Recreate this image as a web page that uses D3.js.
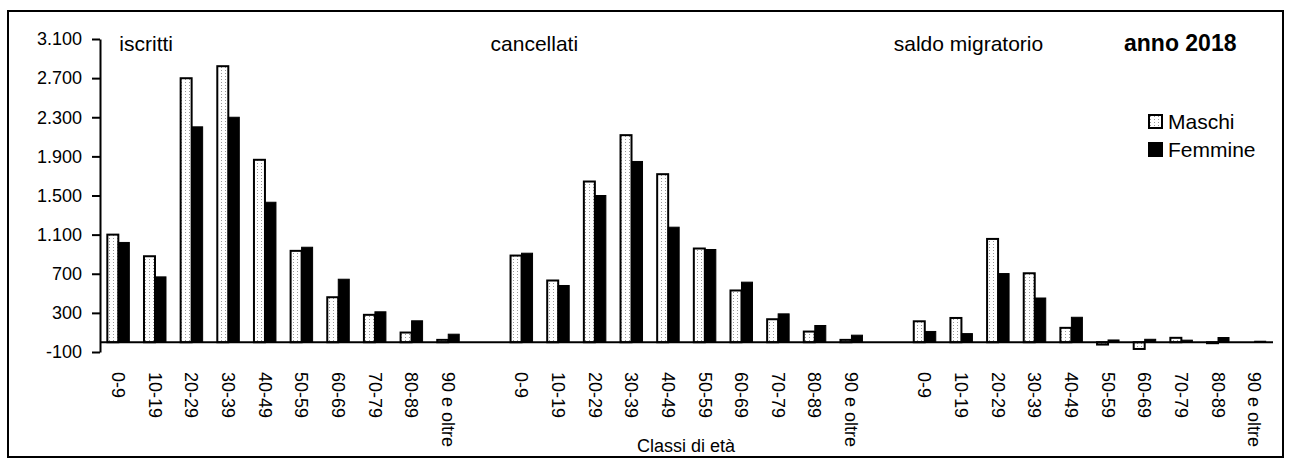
<!DOCTYPE html>
<meta charset="utf-8">
<html>
<style type='text/css'>
  body { margin:0; background:#fff; }
  text { font-family: "Liberation Sans", Arial, sans-serif; fill:#000; }
</style>
<script src="https://d3js.org/d3.v7.min.js"></script>
<body>
<svg id="chart" width="1289" height="467"></svg>

<script>

// Data
var classi = ["0-9", "10-19", "20-29", "30-39", "40-49", "50-59", "60-69", "70-79", "80-89", "90 e oltre"];
var gruppi = ["iscritti", "cancellati", "saldo migratorio"];

var iscrittiMaschi   = [1100, 879, 2699, 2822, 1865, 934, 460, 280, 99, 24];
var iscrittiFemmine  = [1020, 668, 2202, 2300, 1431, 971, 644, 311, 219, 82];
var cancellatiMaschi  = [886, 631, 1643, 2117, 1718, 958, 529, 235, 109, 24];
var cancellatiFemmine = [910, 580, 1500, 1848, 1176, 948, 614, 290, 171, 72];
var saldoMaschi   = [214, 248, 1056, 705, 147, -24, -69, 45, -10, 0];
var saldoFemmine  = [110, 88, 702, 452, 255, 23, 30, 21, 48, 10];

var yTicks = [-100, 300, 700, 1100, 1500, 1900, 2300, 2700, 3100];

// slots: 10 classes, one empty slot, 10 classes, one empty slot, 10 classes
var serie = [
  {gruppo: gruppi[0], maschi: iscrittiMaschi, femmine: iscrittiFemmine},
  {gruppo: gruppi[1], maschi: cancellatiMaschi, femmine: cancellatiFemmine},
  {gruppo: gruppi[2], maschi: saldoMaschi, femmine: saldoFemmine}
];
var rows = [];
serie.forEach(function(s, gi) {
  classi.forEach(function(c, ci) {
    rows.push({slot: gi * 11 + ci, classe: c, maschi: s.maschi[ci], femmine: s.femmine[ci]});
  });
});

var svg = d3.select("#chart");

// frame
svg.append("rect")
  .attr("x", 8).attr("y", 11)
  .attr("width", 1275).attr("height", 446)
  .attr("fill", "#fff")
  .attr("stroke", "#000")
  .attr("stroke-width", 2);

// dotted pattern for Maschi
var pat = svg.append("defs").append("pattern")
  .attr("id", "dots")
  .attr("patternUnits", "userSpaceOnUse")
  .attr("width", 4).attr("height", 3);
pat.append("rect").attr("width", 4).attr("height", 3).attr("fill", "#fff");
pat.append("rect").attr("x", 1).attr("y", 1).attr("width", 1).attr("height", 1).attr("fill", "#999");

var x = d3.scaleBand()
  .domain(d3.range(32))
  .range([100, 1273])
  .paddingInner(0.4)
  .paddingOuter(0.2);

var y = d3.scaleLinear()
  .domain([-100, 3100])
  .range([352, 39]);

var it = d3.formatLocale({decimal: ",", thousands: ".", grouping: [3], currency: ["€", ""], minus: "-"});
var fmt = it.format(",d");

// y axis
var yAxis = svg.append("g")
  .attr("transform", "translate(100,0)")
  .call(d3.axisLeft(y).tickValues(yTicks).tickFormat(fmt).tickSize(8).tickSizeOuter(0).tickPadding(10));
yAxis.select(".domain").attr("stroke-width", 2);
yAxis.selectAll(".tick line").attr("stroke-width", 2);
yAxis.selectAll("text").style("font-size", "18px").attr("fill", "#000");

var half = x.bandwidth() / 2;

// bars
var g = svg.append("g");
g.selectAll(".maschi")
  .data(rows)
  .enter().append("rect")
    .attr("class", "maschi")
    .attr("x", function(d) { return x(d.slot); })
    .attr("y", function(d) { return y(Math.max(0, d.maschi)); })
    .attr("width", half)
    .attr("height", function(d) { return Math.abs(y(d.maschi) - y(0)); })
    .attr("fill", "url(#dots)")
    .attr("stroke", "#000")
    .attr("stroke-width", 2);

g.selectAll(".femmine")
  .data(rows)
  .enter().append("rect")
    .attr("class", "femmine")
    .attr("x", function(d) { return x(d.slot) + half; })
    .attr("y", function(d) { return y(Math.max(0, d.femmine)); })
    .attr("width", half)
    .attr("height", function(d) { return Math.abs(y(d.femmine) - y(0)); })
    .attr("fill", "#000")
    .attr("stroke", "#000")
    .attr("stroke-width", 1);

// zero line
svg.append("line")
  .attr("x1", 100).attr("x2", 1273)
  .attr("y1", y(0)).attr("y2", y(0))
  .attr("stroke", "#000")
  .attr("stroke-width", 2);

// x labels (rotated)
svg.selectAll(".xlab")
  .data(rows)
  .enter().append("text")
    .attr("class", "xlab")
    .attr("transform", function(d) { return "translate(" + (x(d.slot) + half) + ",372) rotate(90)"; })
    .attr("dy", "0.35em")
    .style("font-size", "18px")
    .text(function(d) { return d.classe; });

// group labels
var gruppoPos = [0, 11, 22];
svg.selectAll(".glab")
  .data(gruppi)
  .enter().append("text")
    .attr("class", "glab")
    .attr("x", function(d, i) { return x(gruppoPos[i]) + (i === 0 ? 12 : -20); })
    .attr("y", 51)
    .style("font-size", "21px")
    .text(function(d) { return d; });

svg.append("text")
  .attr("x", 1124).attr("y", 51)
  .style("font-size", "23px")
  .style("font-weight", "bold")
  .text("anno 2018");

// legend
var legend = [{nome: "Maschi", fill: "url(#dots)"}, {nome: "Femmine", fill: "#000"}];
var lg = svg.selectAll(".leg")
  .data(legend)
  .enter().append("g")
    .attr("transform", function(d, i) { return "translate(1149," + (115 + i * 28) + ")"; });
lg.append("rect")
  .attr("width", 13).attr("height", 13)
  .attr("fill", function(d) { return d.fill; })
  .attr("stroke", "#000")
  .attr("stroke-width", 2);
lg.append("text")
  .attr("x", 19).attr("y", 14)
  .style("font-size", "21px")
  .text(function(d) { return d.nome; });

// x axis title
svg.append("text")
  .attr("x", 686).attr("y", 452)
  .attr("text-anchor", "middle")
  .style("font-size", "18px")
  .text("Classi di età");

</script>
</body>
</html>
